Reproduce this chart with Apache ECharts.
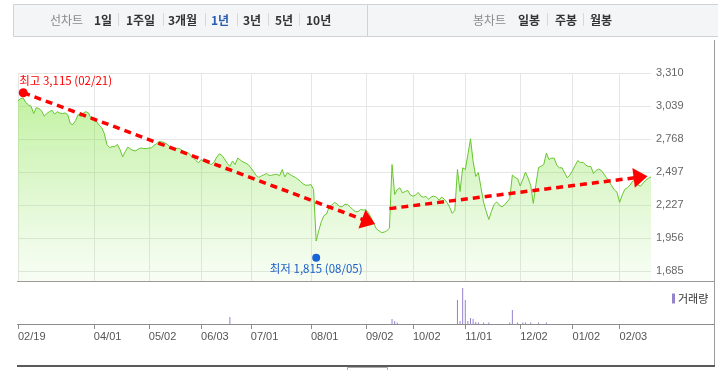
<!DOCTYPE html>
<html><head><meta charset="utf-8">
<script src="https://cdn.jsdelivr.net/npm/echarts@6/dist/echarts.min.js"></script>
<style>html,body{margin:0;padding:0;background:#fff}#c{width:718px;height:370px}</style>
</head><body><div id="c"></div><script>
// trading days (KRX) per month
const tradingDays = [
  ['2024-02', [19,20,21,22,23,26,27,28,29]],
  ['2024-03', [4,5,6,7,8,11,12,13,14,15,18,19,20,21,22,25,26,27,28,29]],
  ['2024-04', [1,2,3,4,5,8,9,11,12,15,16,17,18,19,22,23,24,25,26,29,30]],
  ['2024-05', [2,3,7,8,9,10,13,14,16,17,20,21,22,23,24,27,28,29,30,31]],
  ['2024-06', [3,4,5,7,10,11,12,13,14,17,18,19,20,21,24,25,26,27,28]],
  ['2024-07', [1,2,3,4,5,8,9,10,11,12,15,16,17,18,19,22,23,24,25,26,29,30,31]],
  ['2024-08', [1,2,5,6,7,8,9,12,13,14,16,19,20,21,22,23,26,27,28,29,30]],
  ['2024-09', [2,3,4,5,6,9,10,11,12,13,19,20,23,24,25,26,27,30]],
  ['2024-10', [2,4,7,8,10,11,14,15,16,17,18,21,22,23,24,25,28,29,30,31]],
  ['2024-11', [1,4,5,6,7,8,11,12,13,14,15,18,19,20,21,22,25,26,27,28,29]],
  ['2024-12', [2,3,4,5,6,9,10,11,12,13,16,17,18,19,20,23,24,26,27,30]],
  ['2025-01', [2,3,6,7,8,9,10,13,14,15,16,17,20,21,22,23,24,31]],
  ['2025-02', [3,4,5,6,7,10,11,12,13,14,17,18,19]]
];
const dates = [];
tradingDays.forEach(([ym, ds]) => ds.forEach(d => dates.push(ym + '-' + String(d).padStart(2, '0'))));

// daily closing prices
const closes = [
  3083,3100,3105,3067,3048,3037,2977,3026,3018,3001,
  2956,2977,2993,3004,2973,2993,2981,2977,2982,2969,
  2895,2887,2919,2969,2952,2982,2993,2981,2932,2919,
  2911,2883,2862,2813,2723,2698,2706,2706,2723,2682,
  2622,2665,2702,2686,2674,2671,2686,2695,2690,2690,
  2694,2696,2715,2731,2747,2745,2739,2726,2706,2694,
  2682,2694,2686,2670,2661,2655,2636,2614,2592,2573,
  2600,2588,2575,2567,2559,2580,2620,2647,2633,2604,
  2569,2543,2588,2559,2612,2596,2581,2571,2559,2532,
  2504,2469,2453,2465,2475,2485,2469,2471,2477,2479,
  2466,2518,2457,2491,2477,2464,2453,2439,2420,2400,
  2389,2390,2394,2354,1931,2018,2092,2141,2153,2215,
  2228,2248,2235,2212,2213,2233,2231,2211,2189,2172,
  2172,2190,2185,2188,2162,2121,2077,2031,2015,2000,
  2004,2016,2036,2559,2313,2354,2367,2326,2338,2346,
  2309,2299,2309,2330,2300,2291,2297,2272,2294,2299,
  2291,2266,2292,2274,2248,2211,2158,2182,2518,2338,
  2532,2518,2641,2770,2584,2461,2493,2371,2248,2174,
  2108,2174,2231,2252,2226,2212,2227,2252,2280,2473,
  2453,2442,2383,2436,2496,2448,2389,2240,2395,2534,
  2545,2559,2653,2600,2612,2611,2552,2532,2532,2489,
  2450,2473,2510,2551,2592,2575,2578,2555,2543,2543,
  2485,2510,2521,2510,2481,2450,2418,2384,2350,2332,
  2248,2309,2356,2369,2390,2423,2430,2392,2381,2407,
  2431,2446,2458
];

// volume (relative units)
const volDates = ['2024-06-19','2024-09-19','2024-09-20','2024-09-23','2024-10-29','2024-10-30','2024-10-31',
  '2024-11-01','2024-11-04','2024-11-05','2024-11-06','2024-11-07','2024-11-08','2024-11-12','2024-11-14',
  '2024-11-26','2024-11-27','2024-11-29','2024-12-03','2024-12-04','2024-12-06','2024-12-11','2024-12-16'];
const volValues = [7,5,3,1.5,24,3,36,24,3,6,5,2,1.5,1.5,1.5,1.5,14,1.5,1.5,1.5,1.5,1.5,1.5];

const monthLabels = ['2024-02-19','2024-04-01','2024-05-02','2024-06-03','2024-07-01','2024-08-01',
  '2024-09-02','2024-10-02','2024-11-01','2024-12-02','2025-01-02','2025-02-03'];
const priceTicks = [1685, 1956, 2227, 2497, 2768, 3039, 3310];

const highPt = ['2024-02-21', 3115];
const lowPt = ['2024-08-05', 1815];
const trendLines = [
  [['2024-02-21', 3149], ['2024-09-03', 2090]],
  [['2024-09-13', 2197], ['2025-02-13', 2456]]
];

const FONT = "'Liberation Sans','Noto Sans CJK KR',sans-serif";
const KFONT = "'Noto Sans CJK KR','Liberation Sans',sans-serif";
const fmt = v => v.toLocaleString('en-US');
const md = d => d.slice(5).replace('-', '/');
const isLabel = (i, v) => monthLabels.includes(v);

const chart = echarts.init(document.getElementById('c'), null, {renderer: 'canvas'});

const tabs = [
  {t:'선차트', x:50, c:'#8a8a8a', w:'normal'},
  {t:'1일', x:94, c:'#333', w:'bold'},
  {t:'1주일', x:126, c:'#333', w:'bold'},
  {t:'3개월', x:168, c:'#333', w:'bold'},
  {t:'1년', x:211, c:'#2a5db0', w:'bold'},
  {t:'3년', x:243, c:'#333', w:'bold'},
  {t:'5년', x:275, c:'#333', w:'bold'},
  {t:'10년', x:306, c:'#333', w:'bold'},
  {t:'봉차트', x:473, c:'#8a8a8a', w:'normal'},
  {t:'일봉', x:518, c:'#333', w:'bold'},
  {t:'주봉', x:555, c:'#333', w:'bold'},
  {t:'월봉', x:590, c:'#333', w:'bold'}
];
const seps = [118, 163, 205, 237, 268, 299, 547, 583];
const graphics = [
  {type:'rect', shape:{x:13.5, y:4.5, width:710, height:32}, style:{fill:'#f4f5f7', stroke:'#cfd2d7', lineWidth:1}, z:10},
  {type:'line', shape:{x1:367.5, y1:4.5, x2:367.5, y2:36.5}, style:{stroke:'#cfd2d7', lineWidth:1}, z:11},
  ...tabs.map(o => ({type:'text', x:o.x, y:20, style:{text:o.t, fill:o.c, font:`${o.w} 12px ${KFONT}`, textVerticalAlign:'middle'}, z:12})),
  ...seps.map(x => ({type:'line', shape:{x1:x+0.5, y1:13, x2:x+0.5, y2:26}, style:{stroke:'#d8d8d8', lineWidth:1}, z:12})),
  {type:'line', shape:{x1:17, y1:281.5, x2:715, y2:281.5}, style:{stroke:'#9a9a9a', lineWidth:1}, z:20},
  {type:'line', shape:{x1:17, y1:324.5, x2:715, y2:324.5}, style:{stroke:'#8c8c8c', lineWidth:1}, z:20},
  {type:'line', shape:{x1:714.5, y1:40, x2:714.5, y2:366}, style:{stroke:'#9a9a9a', lineWidth:1}, z:20},
  {type:'line', shape:{x1:17, y1:366, x2:715, y2:366}, style:{stroke:'#5a5a5a', lineWidth:2}, z:20},
  {type:'rect', shape:{x:347.5, y:367.5, width:40, height:6}, style:{fill:'#fff', stroke:'#aaa', lineWidth:1}, z:20}
];

chart.setOption({
  animation: false,
  textStyle: {fontFamily: FONT},
  graphic: graphics,
  legend: {
    data: ['거래량'], left: 667, top: 288, icon: 'rect', itemWidth: 3, itemHeight: 10, itemGap: 4,
    textStyle: {fontSize: 11, color: '#333', fontFamily: KFONT, padding: [0,0,0,-2]}, selectedMode: false
  },
  grid: [
    {left: 18, right: 67, top: 73, height: 208},
    {left: 18, right: 67, top: 282, height: 42}
  ],
  xAxis: [
    {type:'category', gridIndex:0, data:dates, boundaryGap:false,
     axisLine:{show:false}, axisTick:{show:false}, axisLabel:{show:false},
     splitLine:{show:true, interval:isLabel, lineStyle:{color:'#e6e6e6', width:1}}},
    {type:'category', gridIndex:1, data:dates, boundaryGap:false,
     axisLine:{show:false},
     axisTick:{show:true, interval:isLabel, length:5, lineStyle:{color:'#8c8c8c'}},
     axisLabel:{show:true, interval:isLabel, formatter:v => md(v), align:'left', margin:7, fontSize:11, color:'#555', fontFamily:FONT},
     splitLine:{show:false}}
  ],
  yAxis: [
    {type:'value', gridIndex:0, position:'right', min:1603, max:3310,
     axisLine:{show:false}, axisTick:{show:false, customValues:priceTicks},
     axisLabel:{customValues:priceTicks, formatter:v => fmt(v), margin:5, fontSize:11, color:'#666', fontFamily:FONT},
     splitLine:{show:true, lineStyle:{color:'#e6e6e6', width:1}}},
    {type:'value', gridIndex:1, min:0, max:42, show:false, splitLine:{show:false}}
  ],
  series: [
    {name:'종가', type:'line', xAxisIndex:0, yAxisIndex:0, data:closes, symbol:'none', silent:true,
     lineStyle:{color:'#66c62e', width:1},
     areaStyle:{color:new echarts.graphic.LinearGradient(0,0,0,1,[
       {offset:0, color:'rgba(115,225,40,0.62)'},
       {offset:0.45, color:'rgba(130,226,70,0.40)'},
       {offset:1, color:'rgba(150,230,100,0.10)'}])},
     markLine:{silent:true, symbol:['none','triangle'], symbolSize:[20,14], animation:false,
       lineStyle:{color:'#ff0000', width:3.5, type:[7,5]},
       label:{show:false},
       emphasis:{disabled:true},
       data: trendLines.map(([a,b]) => [{coord:a}, {coord:b}])}
    },
    {name:'최고', type:'scatter', xAxisIndex:0, yAxisIndex:0, data:[highPt], symbol:'circle', symbolSize:9,
     symbolOffset:[0,-4], itemStyle:{color:'#ff0000', opacity:1}, silent:true, z:5,
     label:{show:true, position:'top', align:'left', distance:2, offset:[-4,0], fontSize:11.5, color:'#ff0000', fontFamily:KFONT,
       formatter:p => `최고 ${fmt(p.value[1])} (${md(p.value[0])})`}},
    {name:'최저', type:'scatter', xAxisIndex:0, yAxisIndex:0, data:[lowPt], symbol:'circle', symbolSize:8,
     symbolOffset:[0,2.5], itemStyle:{color:'#1764d6', opacity:1}, silent:true, z:5,
     label:{show:true, position:'bottom', distance:1, fontSize:11.5, color:'#1b5fc9', fontFamily:KFONT,
       formatter:p => `최저 ${fmt(p.value[1])} (${md(p.value[0])})`}},
    {name:'거래량', type:'bar', xAxisIndex:1, yAxisIndex:1, barWidth:1, silent:true,
     data: volDates.map((d,i) => [d, volValues[i]]), itemStyle:{color:'#9583cc'}}
  ]
});
</script></body></html>
